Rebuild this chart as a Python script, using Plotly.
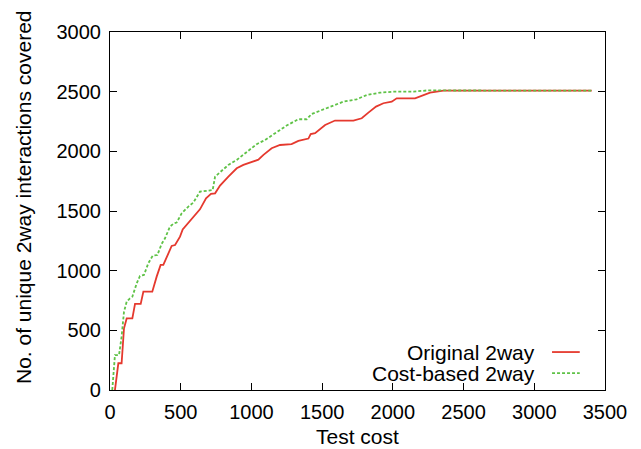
import plotly.graph_objects as go

# Original 2way (red, solid)
orig_cost = [35, 59, 82, 99, 118, 158, 177, 217, 236, 299, 330, 358, 377, 436, 460, 495, 514, 547,
             578, 636, 679, 714, 743, 778, 837, 896, 943, 1002, 1049, 1085, 1143, 1202, 1284, 1332,
             1403, 1419, 1450, 1521, 1591, 1721, 1780, 1827, 1881, 1933, 1992, 2027, 2157, 2263,
             2357, 3406]
orig_cov = [0, 224, 224, 517, 600, 600, 721, 721, 824, 824, 950, 1048, 1048, 1207, 1215, 1285, 1346,
            1391, 1439, 1514, 1607, 1643, 1648, 1713, 1788, 1858, 1886, 1909, 1930, 1970, 2026, 2053,
            2060, 2087, 2107, 2144, 2152, 2221, 2258, 2258, 2277, 2324, 2375, 2403, 2416, 2444, 2444,
            2492, 2508, 2508]

# Cost-based 2way (green, dashed)
cost_cost = [16, 35, 64, 82, 99, 118, 141, 158, 189, 212, 240, 271, 302, 335, 365, 389, 424, 453,
             471, 507, 554, 589, 636, 683, 726, 743, 790, 837, 896, 967, 1037, 1096, 1179, 1249,
             1332, 1391, 1426, 1497, 1568, 1650, 1744, 1815, 1909, 2003, 2145, 2239, 2404, 3406]
cost_cov = [0, 293, 293, 447, 656, 740, 768, 782, 894, 956, 964, 1062, 1126, 1131, 1224, 1271, 1369,
            1397, 1403, 1481, 1537, 1570, 1662, 1671, 1676, 1788, 1838, 1886, 1928, 1998, 2060, 2095,
            2160, 2216, 2269, 2269, 2313, 2347, 2383, 2416, 2436, 2472, 2492, 2500, 2500, 2510, 2510,
            2508]

x_ticks = [0, 500, 1000, 1500, 2000, 2500, 3000, 3500]
y_ticks = [0, 500, 1000, 1500, 2000, 2500, 3000]

RED = "#e5392e"
GREEN = "#5fc247"
FONT = "Liberation Sans, Arial, sans-serif"

fig = go.Figure()
fig.add_trace(go.Scatter(x=orig_cost, y=orig_cov, mode="lines", name="Original 2way",
                         line=dict(color=RED, width=1.8)))
fig.add_trace(go.Scatter(x=cost_cost, y=cost_cov, mode="lines", name="Cost-based 2way",
                         line=dict(color=GREEN, width=1.8, dash="3px,2px")))

axis_common = dict(showgrid=False, zeroline=False, showline=True, linecolor="black", linewidth=1.2,
                   mirror="ticks", ticks="inside", ticklen=7, tickcolor="black", tickwidth=1,
                   ticklabelstandoff=4,
                   tickfont=dict(family=FONT, size=20, color="black"))

fig.update_xaxes(range=[0, 3500], tickvals=x_ticks, ticktext=[str(v) for v in x_ticks], **axis_common)
fig.update_yaxes(range=[0, 3000], tickvals=y_ticks, ticktext=[str(v) for v in y_ticks], **axis_common)

# axis titles as annotations for precise placement
fig.add_annotation(x=0.5, y=0, xref="paper", yref="paper", yshift=-46, text="Test cost",
                   showarrow=False, xanchor="center", yanchor="middle",
                   font=dict(family=FONT, size=21, color="black"))
fig.add_annotation(x=0, y=0.539, xref="paper", yref="paper", xshift=-87,
                   text="No. of unique 2way interactions covered", textangle=-90,
                   showarrow=False, xanchor="center", yanchor="middle",
                   font=dict(family=FONT, size=21, color="black"))

# legend drawn gnuplot style: text right-aligned, sample line to its right
legend_items = [("Original 2way", RED, "solid", 0.106), ("Cost-based 2way", GREEN, "3px,2px", 0.047)]
for label, color, dash, yp in legend_items:
    fig.add_annotation(x=0.863, y=yp, xref="paper", yref="paper", text=label, showarrow=False,
                       xanchor="right", yanchor="middle",
                       font=dict(family=FONT, size=21, color="black"))
    fig.add_shape(type="line", xref="paper", yref="paper", x0=0.893, x1=0.949, y0=yp, y1=yp,
                  line=dict(color=color, width=1.8, dash=dash))

# page body has an 8px margin, so the figure is offset by 8px
fig.update_layout(width=633, height=441, margin=dict(l=102, r=36, t=24, b=59),
                  plot_bgcolor="white", paper_bgcolor="white", showlegend=False,
                  font=dict(family=FONT, color="black"))

fig.write_html("out.html")
